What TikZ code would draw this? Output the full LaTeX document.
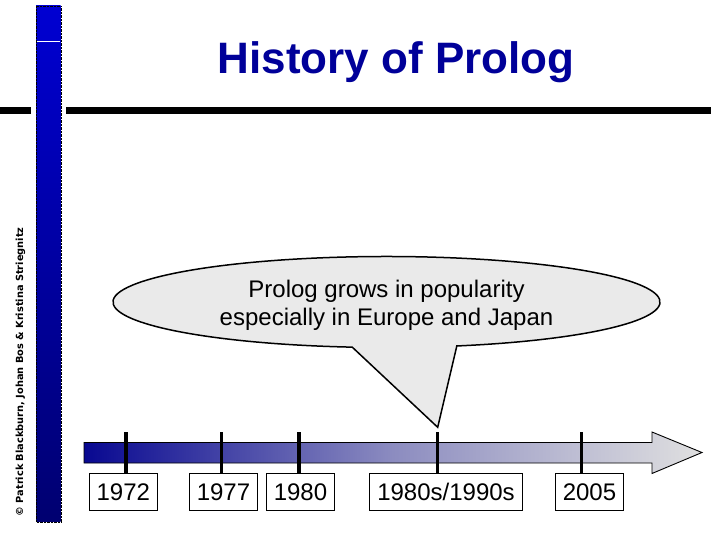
\documentclass[tikz,border=0pt]{standalone}
\usepackage{fontspec}
\setmainfont{Liberation Sans}
\newfontfamily\creditfont{DejaVu Sans}
\usepackage{xcolor}
\usetikzlibrary{calc}
\definecolor{titleblue}{RGB}{0,0,153}
\definecolor{bartop}{RGB}{0,0,210}
\definecolor{barbottom}{RGB}{0,0,112}
\definecolor{lineleft}{RGB}{8,8,145}
\definecolor{linemid}{RGB}{140,140,192}
\definecolor{lineright}{RGB}{224,224,224}
\definecolor{bubblefill}{RGB}{234,234,234}

\begin{document}
\begin{tikzpicture}[x=1pt, y=-1pt,
    yearbox/.style={draw, line width=0.9pt, fill=white, text height=17.3pt,
        text depth=0pt, inner xsep=7.5pt, inner ysep=9.8pt,
        font=\fontsize{24}{28}\selectfont},
    yeartick/.style={line width=3.4pt}]
\useasboundingbox (0,0) rectangle (720,540);

% Side bar and title rule
\shade[top color=bartop, bottom color=barbottom] (36,6) rectangle (60.7,521.7);
\draw[black, densely dotted, line width=0.4pt] (36,6) rectangle (60.7,521.7);
\draw[white, line width=0.8pt] (36.6,41) -- (60.1,41);
\draw[line width=7pt] (0,110.7) -- (31,110.7) (66,110.7) -- (711,110.7);

% Credit
\node[rotate=90, font=\creditfont\bfseries\fontsize{9.8}{11}\selectfont] (credit)
    at (20.5,372) {© Patrick Blackburn, Johan Bos \& Kristina Striegnitz};

% Title
\node[anchor=base, text=titleblue, font=\bfseries\fontsize{44}{50}\selectfont]
    (title) at (396,74) {History of Prolog};

% Timeline arrow
\shadedraw[left color=lineleft, right color=lineright, middle color=linemid,
    line width=0.9pt]
    (84,442.5) -- (652,442.5) -- (652,432) -- (702,452.5)
    -- (652,473.5) -- (652,463) -- (84,463) -- cycle;

% Year marks
% Arguments: name, tick-x, box-x, label
\def\yearmark#1#2#3#4{
    \node[yearbox] (#1) at (#3,491.5) {#4};
    \coordinate (#1top) at (#2,432);
    \draw[yeartick] (#1top) -- (#1top |- #1.north);
}

\yearmark{y1972}{126}{123.3}{1972}
\yearmark{y1977}{221.7}{223.5}{1977}
\yearmark{y1980}{299}{300.5}{1980}
\yearmark{y1990s}{437.7}{446}{1980s/1990s}
\yearmark{y2005}{581.7}{589.5}{2005}

% Callout
\coordinate (bubble) at (386.5,302);
\coordinate (tip) at (437.7,427.3);
\filldraw[fill=bubblefill, line width=1.5pt, line join=miter]
    ([shift={(284.9:273.5pt and 45.5pt)}]bubble)
    arc[start angle=284.9, end angle=622.8, x radius=273.5pt, y radius=45.5pt]
    -- (tip) -- cycle;
\node[align=center, font=\fontsize{24}{27.7}\selectfont, inner sep=0pt]
    (note) at (386.5,305.5) {Prolog grows in popularity\\especially in Europe and Japan};

\end{tikzpicture}
\end{document}
